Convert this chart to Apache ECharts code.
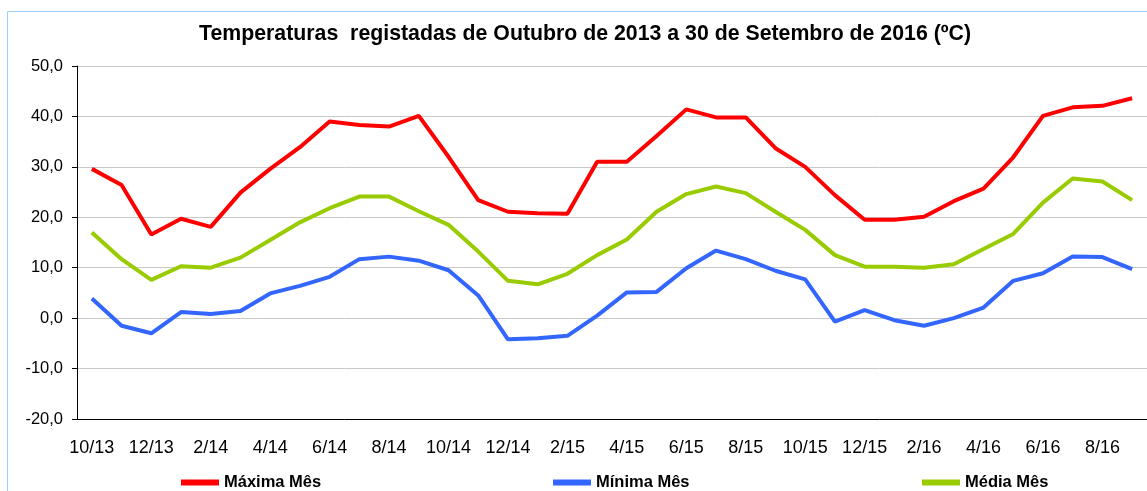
<!DOCTYPE html>
<html lang="pt">

<head>
    <meta charset="UTF-8">
    <title>Temperaturas</title>
    <style>
        * {
            margin: 0;
            padding: 0;
        }

        #chart {
            width: 1147px;
            height: 491px;
            background: #fff;
        }
    </style>
</head>

<body>
    <div id="chart"></div>

    <script src="https://cdn.jsdelivr.net/npm/echarts@6/dist/echarts.min.js"></script>
    <script>
        // meses de 10/2013 a 9/2016
        var months = ['10/13', '11/13', '12/13', '1/14', '2/14', '3/14', '4/14', '5/14', '6/14', '7/14', '8/14', '9/14',
            '10/14', '11/14', '12/14', '1/15', '2/15', '3/15', '4/15', '5/15', '6/15', '7/15', '8/15', '9/15',
            '10/15', '11/15', '12/15', '1/16', '2/16', '3/16', '4/16', '5/16', '6/16', '7/16', '8/16', '9/16'];

        var maxima = [29.6, 26.4, 16.6, 19.7, 18.1, 24.9, 29.6, 33.9, 39.0, 38.3, 38.0, 40.1,
            32.0, 23.4, 21.1, 20.8, 20.7, 31.0, 31.0, 36.1, 41.4, 39.8, 39.8, 33.7,
            30.0, 24.4, 19.5, 19.5, 20.1, 23.2, 25.7, 31.9, 40.1, 41.8, 42.1, 43.6];

        var minima = [3.9, -1.5, -3.0, 1.2, 0.8, 1.4, 4.9, 6.4, 8.2, 11.7, 12.2, 11.4,
            9.5, 4.5, -4.2, -4.0, -3.5, 0.5, 5.1, 5.2, 9.9, 13.4, 11.7, 9.4,
            7.7, -0.7, 1.6, -0.4, -1.5, 0.0, 2.1, 7.4, 8.9, 12.2, 12.1, 9.7];

        var media = [17.0, 11.7, 7.6, 10.3, 10.0, 12.0, 15.5, 19.0, 21.8, 24.1, 24.1, 21.2,
            18.5, 13.2, 7.4, 6.7, 8.8, 12.5, 15.6, 21.1, 24.6, 26.1, 24.8, 21.1,
            17.5, 12.5, 10.2, 10.2, 10.0, 10.7, 13.7, 16.7, 22.9, 27.7, 27.1, 23.4];

        var yTicks = { min: -20, max: 50, step: 10 };

        var chart = echarts.init(document.getElementById('chart'));

        function legendFor(name, left) {
            return {
                data: [name],
                left: left,
                top: 469,
                itemWidth: 38,
                itemHeight: 6,
                itemGap: 5,
                icon: 'rect',
                textStyle: {
                    fontFamily: 'Liberation Sans',
                    fontWeight: 'bold',
                    fontSize: 16.5,
                    color: '#000'
                }
            };
        }

        function lineSeries(name, data, color) {
            return {
                name: name,
                type: 'line',
                data: data,
                symbol: 'none',
                color: color,
                lineStyle: { width: 4, color: color }
            };
        }

        var option = {
            animation: false,
            title: {
                text: 'Temperaturas  registadas de Outubro de 2013 a 30 de Setembro de 2016 (ºC)',
                left: 580,
                textAlign: 'center',
                top: 19,
                textStyle: {
                    fontFamily: 'Liberation Sans',
                    fontWeight: 'bold',
                    fontSize: 21.3,
                    color: '#000'
                }
            },
            legend: [
                legendFor('Máxima Mês', 176),
                legendFor('Mínima Mês', 548),
                legendFor('Média Mês', 917)
            ],
            grid: {
                left: 77,
                right: -12,
                top: 66,
                bottom: 72
            },
            xAxis: {
                type: 'category',
                data: months,
                boundaryGap: true,
                axisLine: { onZero: false, lineStyle: { color: '#000', width: 1 } },
                axisTick: { interval: 0, length: 6, lineStyle: { color: '#000' } },
                axisLabel: {
                    interval: 1,
                    margin: 20,
                    fontFamily: 'Liberation Sans',
                    fontSize: 18,
                    color: '#000'
                },
                splitLine: { show: false }
            },
            yAxis: {
                type: 'value',
                min: yTicks.min,
                max: yTicks.max,
                interval: yTicks.step,
                axisLine: { show: true, lineStyle: { color: '#000', width: 1 } },
                axisTick: { show: true, length: 5, lineStyle: { color: '#000' } },
                axisLabel: {
                    margin: 14,
                    fontFamily: 'Liberation Sans',
                    fontSize: 16.5,
                    color: '#000',
                    formatter: function (v) {
                        return v.toFixed(1).replace('.', ',');
                    }
                },
                splitLine: { lineStyle: { color: '#c8c8c8', width: 1 } }
            },
            series: [
                lineSeries('Máxima Mês', maxima, '#ff0000'),
                lineSeries('Mínima Mês', minima, '#3366ff'),
                lineSeries('Média Mês', media, '#99cc00')
            ],
            graphic: [{
                type: 'rect',
                shape: { x: 7.5, y: 11.5, width: 1200, height: 600 },
                style: { fill: 'none', stroke: '#99ccff', lineWidth: 1 },
                silent: true
            }]
        };

        chart.setOption(option);
    </script>
</body>

</html>
